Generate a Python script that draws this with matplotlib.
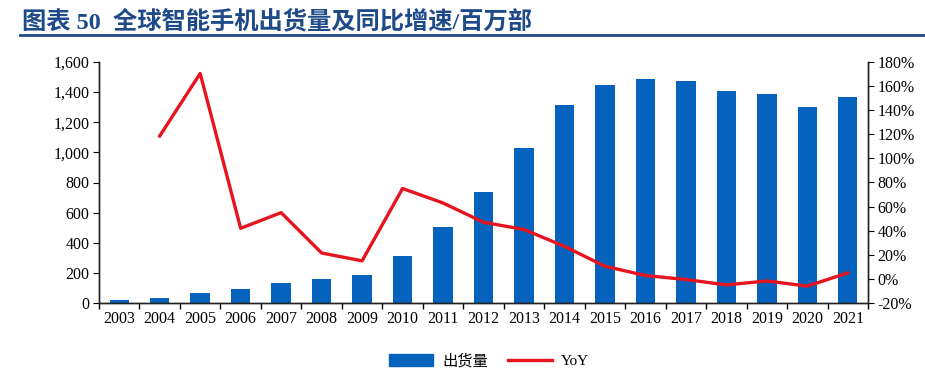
import matplotlib.pyplot as plt
from matplotlib.ticker import FuncFormatter, MultipleLocator
import matplotlib.lines as mlines
import matplotlib.patches as mpatches

plt.rcParams['font.family'] = ['Liberation Serif', 'Noto Sans CJK SC']

# data
years = [str(y) for y in range(2003, 2022)]
shipments = [18, 31, 64, 91, 133, 162, 184, 314, 502, 737, 1031,
             1312, 1450, 1485, 1476, 1407, 1385, 1301, 1365]
yoy = [None, 118.6, 170.5, 42, 55, 21.5, 15, 75, 63, 47, 41,
       27, 10.5, 2.8, -0.5, -5, -1.7, -6, 5]

bar_color = '#0563BD'
line_color = '#E5141F'
title_color = '#1F4A8A'

fig = plt.figure(figsize=(9.25, 3.76), dpi=100)
ax = fig.add_axes([99 / 925, 1 - 303 / 376, (868 - 99) / 925, (303 - 62) / 376])
ax2 = ax.twinx()

x = list(range(len(years)))
ax.bar(x, shipments, width=0.48, color=bar_color, zorder=2)
ax.set_ylim(0, 1600)
ax.set_xlim(-0.5, len(years) - 0.5)
ax.yaxis.set_major_locator(MultipleLocator(200))
ax.yaxis.set_major_formatter(FuncFormatter(lambda v, p: f"{int(v):,}"))
ax.set_xticks(x)
ax.set_xticklabels(years)
ax.set_xticks([i + 0.5 for i in range(-1, len(years))], minor=True)
ax.tick_params(axis='x', which='major', length=0, pad=6, labelsize=11.5)
ax.tick_params(axis='x', which='minor', length=4, direction='out', width=1)
ax.tick_params(axis='y', length=4, direction='out', labelsize=11.5, pad=3)

yx = [i for i, v in zip(x, yoy) if v is not None]
yv = [v for v in yoy if v is not None]
ax2.plot(yx, yv, color=line_color, lw=2.4, zorder=3)
ax2.set_ylim(-20, 180)
ax2.yaxis.set_major_locator(MultipleLocator(20))
ax2.yaxis.set_major_formatter(FuncFormatter(lambda v, p: f"{int(round(v))}%"))
ax2.tick_params(axis='y', length=4, direction='out', labelsize=11.5, pad=3)

for a in (ax, ax2):
    a.spines['top'].set_visible(False)
    for s in ('left', 'right', 'bottom'):
        a.spines[s].set_color('#222222')
        a.spines[s].set_linewidth(1)
ax.set_zorder(ax2.get_zorder() - 1)
ax.patch.set_visible(False)

# title + rule
fig.text(22 / 925, 1 - 28 / 376, "图表 50  全球智能手机出货量及同比增速/百万部",
         fontsize=17.5, fontweight='bold', color=title_color, va='baseline',
         family=['Liberation Serif', 'Noto Sans CJK SC'])
fig.add_artist(mlines.Line2D([20 / 925, 1], [1 - 35 / 376, 1 - 35 / 376],
                             color=title_color, lw=2))

# legend
handles = [mpatches.Patch(color=bar_color, label='出货量'),
           mlines.Line2D([], [], color=line_color, lw=2.4, label='YoY')]
fig.legend(handles=handles, loc='center', bbox_to_anchor=(489 / 925, 1 - 361 / 376),
           ncol=2, frameon=False, fontsize=11, handlelength=2.9,
           handleheight=0.8, columnspacing=1.3, handletextpad=0.6)

fig.savefig("out.png", dpi=100)
